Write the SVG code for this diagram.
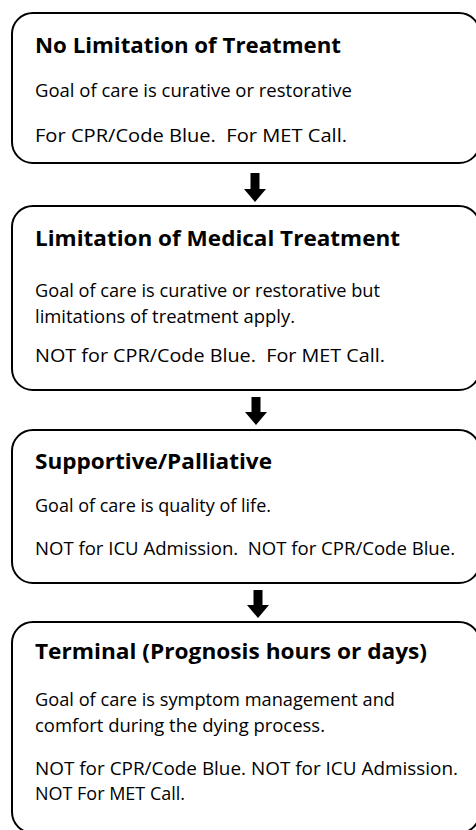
<svg xmlns="http://www.w3.org/2000/svg" width="476" height="830" viewBox="0 0 476 830">
<style>
.box{fill:#fff;stroke:#000;stroke-width:2}
.t{font-family:"Open Sans","Noto Sans","Liberation Sans",sans-serif;font-weight:bold;font-size:21px;fill:#000}
.b{font-family:"Open Sans","Noto Sans","Liberation Sans",sans-serif;font-size:18.5px;fill:#000}
.arr{fill:#000}
</style>
<rect width="476" height="830" fill="#fff"/>
<g id="node1">
<rect class="box" x="12" y="13" width="468" height="150" rx="21" ry="21"/>
<text class="t" x="35" y="53" textLength="306" lengthAdjust="spacingAndGlyphs">No Limitation of Treatment</text>
<text class="b" x="35" y="97" textLength="317" lengthAdjust="spacingAndGlyphs">Goal of care is curative or restorative</text>
<text class="b" x="35" y="142" textLength="312" lengthAdjust="spacingAndGlyphs" xml:space="preserve">For CPR/Code Blue.  For MET Call.</text>
</g>
<g id="node2">
<rect class="box" x="12" y="206" width="468" height="184" rx="21" ry="21"/>
<text class="t" x="35" y="246" textLength="365" lengthAdjust="spacingAndGlyphs">Limitation of Medical Treatment</text>
<text class="b" x="35" y="297" textLength="345" lengthAdjust="spacingAndGlyphs">Goal of care is curative or restorative but</text>
<text class="b" x="35" y="323" textLength="260" lengthAdjust="spacingAndGlyphs">limitations of treatment apply.</text>
<text class="b" x="35" y="362" textLength="350" lengthAdjust="spacingAndGlyphs" xml:space="preserve">NOT for CPR/Code Blue.  For MET Call.</text>
</g>
<g id="node3">
<rect class="box" x="12" y="430" width="468" height="153" rx="21" ry="21"/>
<text class="t" x="35" y="469" textLength="237" lengthAdjust="spacingAndGlyphs">Supportive/Palliative</text>
<text class="b" x="35" y="512" textLength="236" lengthAdjust="spacingAndGlyphs">Goal of care is quality of life.</text>
<text class="b" x="35" y="555" textLength="420" lengthAdjust="spacingAndGlyphs" xml:space="preserve">NOT for ICU Admission.  NOT for CPR/Code Blue.</text>
</g>
<g id="node4">
<rect class="box" x="12" y="622" width="468" height="211" rx="21" ry="21"/>
<text class="t" x="35" y="659" textLength="392" lengthAdjust="spacingAndGlyphs">Terminal (Prognosis hours or days)</text>
<text class="b" x="35" y="706" textLength="360" lengthAdjust="spacingAndGlyphs">Goal of care is symptom management and</text>
<text class="b" x="35" y="732" textLength="290" lengthAdjust="spacingAndGlyphs">comfort during the dying process.</text>
<text class="b" x="35" y="775" textLength="423" lengthAdjust="spacingAndGlyphs">NOT for CPR/Code Blue. NOT for ICU Admission.</text>
<text class="b" x="35" y="800" textLength="150" lengthAdjust="spacingAndGlyphs">NOT For MET Call.</text>
</g>
<g id="connectors">
<path class="arr" d="M250.5 173 H259.5 V189 H266 L255 202 L244 189 H250.5 Z"/>
<path class="arr" d="M251.5 397 H260.5 V412 H267 L256 425 L245 412 H251.5 Z"/>
<path class="arr" d="M253.5 590 H262.5 V605 H269 L258 618 L247 605 H253.5 Z"/>
</g>
</svg>
